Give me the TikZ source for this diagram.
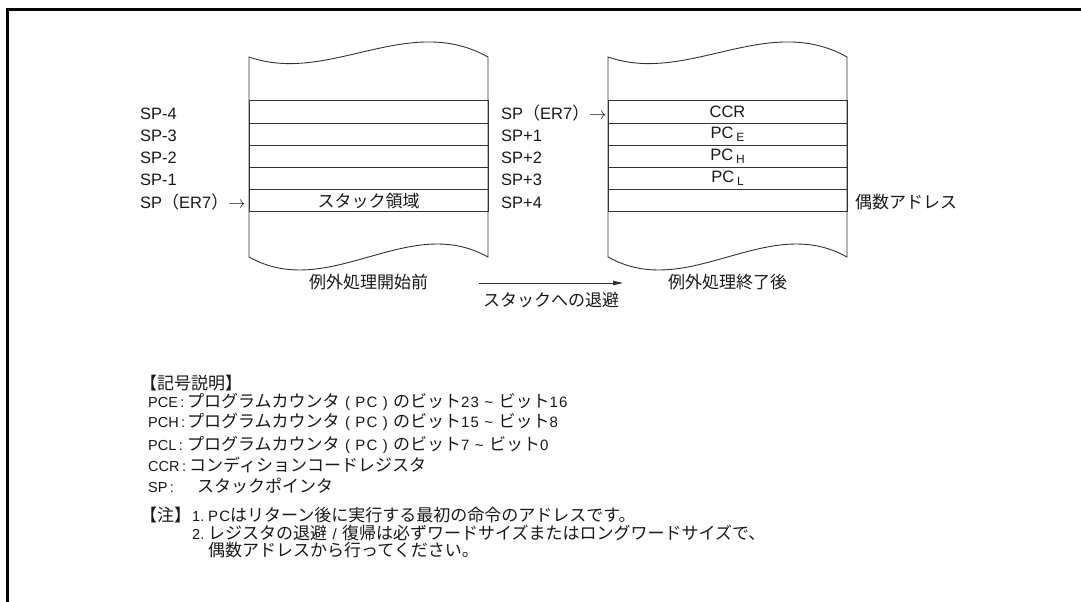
\documentclass[tikz,border=0pt]{standalone}
\usepackage{fontspec}
\setmainfont{Liberation Sans}
\newfontfamily\notefont{Liberation Sans}[LetterSpace=8]
\newfontfamily\jpfont{Noto Sans CJK JP}
\newcommand{\jp}{\jpfont\fontsize{17}{20}\selectfont}
\newcommand{\pcsub}[1]{\,\raisebox{-0.35ex}{\fontsize{12}{14}\selectfont #1}}
\usetikzlibrary{arrows.meta, positioning}

\begin{document}
\begin{tikzpicture}[x=1pt, y=-1pt,
        frame/.style={line width=2.6pt, draw=black},
        stackedge/.style={draw=black!80, line width=0.9pt},
        cell/.style={rectangle, draw=black!80, line width=0.9pt, minimum width=239pt, minimum height=22.2pt, inner sep=0pt, text=black!90, font=\fontsize{16.5}{19}\selectfont},
        addr/.style={anchor=base west, inner sep=0pt, text=black!90, font=\fontsize{16.5}{19}\selectfont},
        caption/.style={inner sep=0pt, text=black!90, font=\jp},
        key/.style={anchor=base west, inner sep=0pt, text=black!90, font=\fontsize{14.5}{18}\selectfont},
        note/.style={anchor=base west, inner sep=0pt, text=black!90, font=\notefont\fontsize{15}{18}\selectfont},
        move/.style={-{Triangle[length=10pt, width=4.5pt]}, line width=0.9pt, draw=black!80}
    ]
        \useasboundingbox (0,0) rectangle (1081,602);
        % Frame
        \draw[frame] (1081,9.3) -- (7.5,9.3) -- (7.5,602);

        % Stack outlines
        \draw[stackedge] (249,57) .. controls (329,85) and (408,12) .. (488,57) -- (488,257)
            .. controls (408,212) and (329,302) .. (249,257) -- cycle;
        \draw[stackedge] (608,57) .. controls (688,85) and (767,12) .. (847,57) -- (847,257)
            .. controls (767,212) and (688,302) .. (608,257) -- cycle;

        % Before
        \node[cell] (bm4) at (368.5,112) {};
        \node[cell] (bm3) at (368.5,134.2) {};
        \node[cell] (bm2) at (368.5,156.4) {};
        \node[cell] (bm1) at (368.5,178.6) {};
        \node[cell] (bsp) at (368.5,200.8) {\jp スタック領域};
        \node[addr] (lm4) at (140,119.3) {SP-4};
        \node[addr] (lm3) at (140,141.5) {SP-3};
        \node[addr] (lm2) at (140,163.7) {SP-2};
        \node[addr] (lm1) at (140,185.9) {SP-1};
        \node[addr] (lsp) at (140,208.1) {SP{\jp （}ER7{\jp ）}$\rightarrow$};
        \node[caption] (before) at (368.5,282.5) {例外処理開始前};

        % After
        \node[cell] (asp) at (727.5,112) {CCR};
        \node[cell] (ap1) at (727.5,134.2) {PC\pcsub{E}};
        \node[cell] (ap2) at (727.5,156.4) {PC\pcsub{H}};
        \node[cell] (ap3) at (727.5,178.6) {PC\pcsub{L}};
        \node[cell] (ap4) at (727.5,200.8) {};
        \node[addr] (rsp) at (501,119.3) {SP{\jp （}ER7{\jp ）}$\rightarrow$};
        \node[addr] (rp1) at (501,141.5) {SP+1};
        \node[addr] (rp2) at (501,163.7) {SP+2};
        \node[addr] (rp3) at (501,185.9) {SP+3};
        \node[addr] (rp4) at (501,208.1) {SP+4};
        \node[addr] (even) at (855,208.1) {\jp 偶数アドレス};
        \node[caption] (after) at (727.5,282.5) {例外処理終了後};

        % Push
        \coordinate (mvfrom) at (479,283);
        \coordinate (mvto) at (623,283);
        \draw[move] (mvfrom) -- (mvto) node[caption, midway, below=9pt] (push) {スタックへの退避};

        % Legend
        \node[note, font=\jp] (lgd) at (140,389) {【記号説明】};
        \node[key] (kpce) at (148,407.3) {PCE\,:};
        \node[note] (dpce) at (187,407.3) {{\jp プログラムカウンタ} ( PC ) {\jp のビット}23 \textasciitilde\ {\jp ビット}16};
        \node[key] (kpch) at (148,427.3) {PCH\,:};
        \node[note] (dpch) at (187,427.3) {{\jp プログラムカウンタ} ( PC ) {\jp のビット}15 \textasciitilde\ {\jp ビット}8};
        \node[key] (kpcl) at (148,450) {PCL\,:};
        \node[note] (dpcl) at (187,450) {{\jp プログラムカウンタ} ( PC ) {\jp のビット}7 \textasciitilde\ {\jp ビット}0};
        \node[key] (kccr) at (148,471.7) {CCR\,:};
        \node[note] (dccr) at (189,471.7) {\jp コンディションコードレジスタ};
        \node[key] (ksp) at (148,492.7) {SP\,:};
        \node[note] (dsp) at (197,492.7) {\jp スタックポインタ};

        % Notes
        \node[note, font=\jp] (nt) at (140,521.7) {【注】};
        \node[key] (n1) at (192,521.7) {1.};
        \node[note] (t1) at (208,521.7) {PC{\jp はリターン後に実行する最初の命令のアドレスです。}};
        \node[key] (n2) at (192,539.3) {2.};
        \node[note] (t2) at (208,539.3) {{\jp レジスタの退避} / {\jp 復帰は必ずワードサイズまたはロングワードサイズで、}};
        \node[note] (t3) at (208,556.7) {\jp 偶数アドレスから行ってください。};
    \end{tikzpicture}
\end{document}
